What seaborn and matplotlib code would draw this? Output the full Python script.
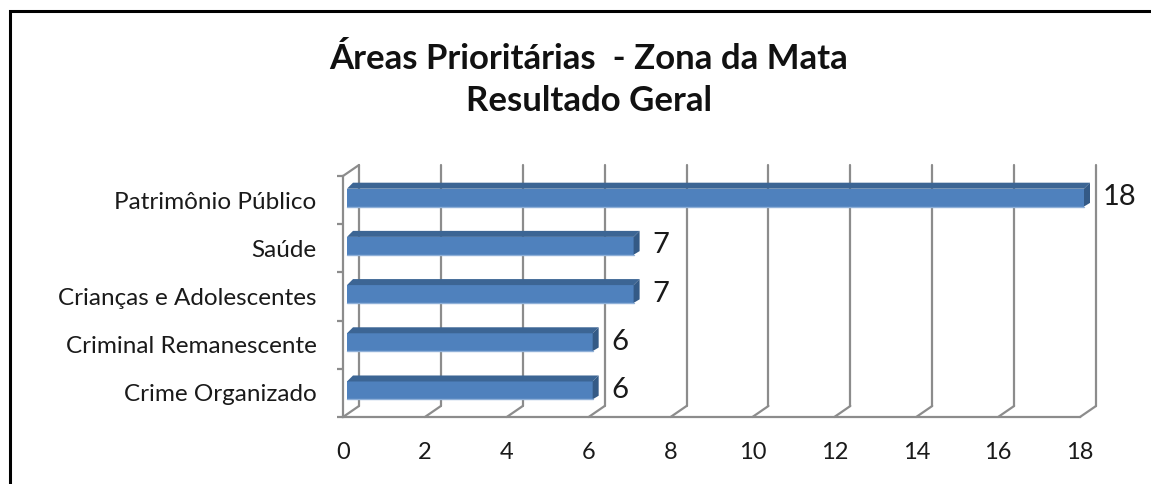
import numpy as np
import seaborn as sns
import matplotlib.pyplot as plt
import matplotlib.transforms as mtransforms
from matplotlib.patches import Polygon, Rectangle

categories = ['Patrimônio Público', 'Saúde', 'Crianças e Adolescentes',
              'Criminal Remanescente', 'Crime Organizado']
values = [18, 7, 7, 6, 6]
xticks = [0, 2, 4, 6, 8, 10, 12, 14, 16, 18]
title = 'Áreas Prioritárias  - Zona da Mata\nResultado Geral'

W, H = 1151, 484
GRID = '#8c8c8c'
FRONT = '#4f81bd'
TOP = '#3c6594'
SIDE = '#345a86'

sns.set_style('white')
plt.rcParams['font.family'] = ['Lato', 'DejaVu Sans']

fig = plt.figure(figsize=(W / 100, H / 100), dpi=100)
# front wall of the 3d box: x 343..1080 px, y 176..417 px (from top)
ax = fig.add_axes([343 / W, (H - 417) / H, 737 / W, 241 / H])

sns.barplot(x=values, y=categories, orient='h', color=FRONT, saturation=1,
            width=0.37, ax=ax, zorder=3)
ax.set_xlim(0, 18)
ax.set_ylim(len(categories) - 0.5, -0.5)

# pixel -> data helpers
px_x = 18 / 737
px_y = len(categories) / 241

# back wall offset (depth of the box)
bdx, bdy = 16 * px_x, -11 * px_y
ytop, ybot = -0.5, len(categories) - 0.5
lw = 1.6
for t in xticks:
    # floor diagonals and back wall verticals
    ax.plot([t, t + bdx], [ybot, ybot + bdy], color=GRID, lw=lw, clip_on=False, zorder=1)
    ax.plot([t + bdx, t + bdx], [ybot + bdy, ytop + bdy], color=GRID, lw=lw,
            clip_on=False, zorder=1)
# left wall top diagonal
ax.plot([0, bdx], [ytop, ytop + bdy], color=GRID, lw=lw, clip_on=False, zorder=1)

# bars: front face sits a bit inside the box, with top and side faces
off = mtransforms.ScaledTranslation(4 / 100, 2.5 / 100, fig.dpi_scale_trans)
ddx, ddy = 6 * px_x, -6 * px_y
for p in list(ax.patches):
    p.set_transform(ax.transData + off)
    p.set_edgecolor('none')
    p.set_clip_on(False)
    x0, y0 = p.get_x(), p.get_y()
    x1, y1 = x0 + p.get_width(), y0 + p.get_height()
    top = Polygon([[x0, y0], [x1, y0], [x1 + ddx, y0 + ddy], [x0 + ddx, y0 + ddy]],
                  closed=True, facecolor=TOP, edgecolor='none',
                  transform=ax.transData + off, zorder=3, clip_on=False)
    side = Polygon([[x1, y0], [x1 + ddx, y0 + ddy], [x1 + ddx, y1 + ddy * 0.6], [x1, y1]],
                   closed=True, facecolor=SIDE, edgecolor='none',
                   transform=ax.transData + off, zorder=3, clip_on=False)
    ax.add_patch(top)
    ax.add_patch(side)
    # light lower rim of the front face
    ax.plot([x0, x1], [y1, y1], color='#8fb0d8', lw=1, transform=ax.transData + off,
            zorder=4, clip_on=False)

# value labels
loff = mtransforms.ScaledTranslation(23 / 100, 3 / 100, fig.dpi_scale_trans)
for i, v in enumerate(values):
    ax.text(v, i, str(v), transform=ax.transData + loff, ha='left', va='center',
            fontsize=21, color='#1a1a1a', clip_on=False)

for s in ['top', 'right']:
    ax.spines[s].set_visible(False)
for s in ['left', 'bottom']:
    ax.spines[s].set_color(GRID)
    ax.spines[s].set_linewidth(lw)

ax.set_xticks(xticks)
ax.set_xticklabels([str(t) for t in xticks])
ax.tick_params(axis='x', length=6, width=lw, color=GRID, pad=12, labelsize=17,
               labelcolor='#1a1a1a')
ax.set_yticks(np.arange(len(categories)))
ax.set_yticklabels(categories)
ax.tick_params(axis='y', which='major', length=0, pad=19, labelsize=17.5,
               labelcolor='#1a1a1a')
ax.set_yticks(np.arange(len(categories) + 1) - 0.5, minor=True)
ax.tick_params(axis='y', which='minor', length=4, width=lw, color=GRID, left=True)
ax.set_xlabel('')
ax.set_ylabel('')

fig.text(589 / W, 1 - 80 / H, title, ha='center', va='center', fontsize=25,
         fontweight='bold', linespacing=1.42, color='#111111')

# chart border (only top and left are inside the picture)
fig.patches.append(Rectangle((10 / W, -0.5), 1.2, (H - 11) / H + 0.5,
                             transform=fig.transFigure, fill=False,
                             edgecolor='black', linewidth=2.2))

plt.savefig('out.png', dpi=100)
